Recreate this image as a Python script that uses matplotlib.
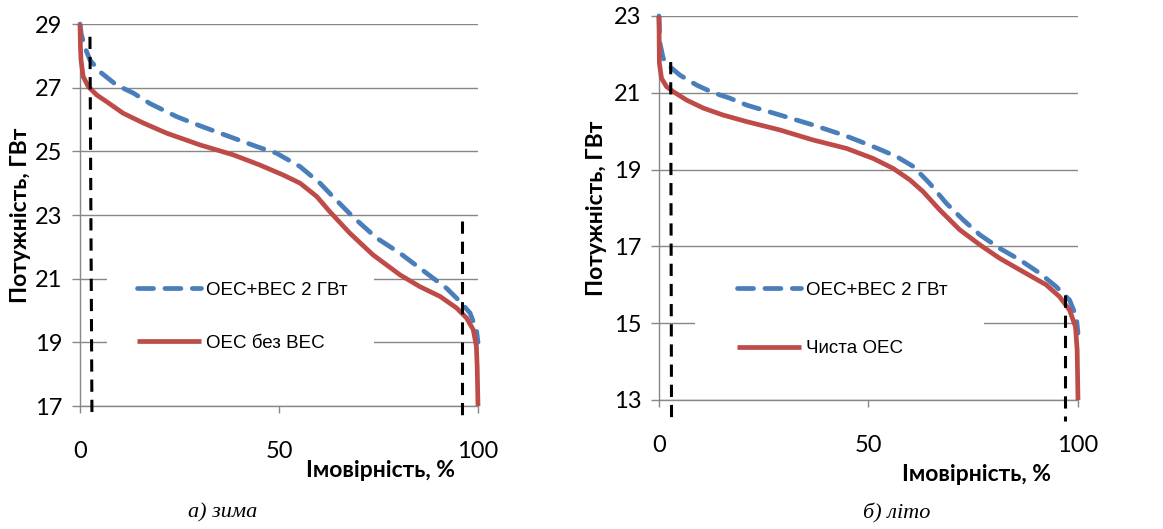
import matplotlib
matplotlib.use("Agg")
import matplotlib.pyplot as plt
from matplotlib.patches import Rectangle

# winter (а) зима)
w_x_blue = [0, 0.3, 0.8, 1.5, 2.5, 5.0, 9.2, 13.4, 17.6, 24.3, 30.2, 38.5, 44.4, 49.4,
            55.3, 60.3, 63.6, 68.6, 74.5, 80.4, 87.1, 92.1, 95.5, 98.0, 99.6, 100]
w_blue = [29.0, 28.7, 28.45, 28.18, 27.87, 27.5, 27.08, 26.83, 26.5, 26.09, 25.8, 25.42,
          25.15, 24.94, 24.52, 24.0, 23.57, 22.94, 22.28, 21.8, 21.17, 20.7, 20.28, 19.92,
          19.4, 19.0]
w_x_red = [0, 0.1, 0.25, 0.8, 2.1, 4.2, 6.7, 10.8, 15.9, 21.8, 30.2, 38.5, 45.2, 51.0,
           55.3, 59.5, 62.8, 67.8, 73.6, 80.4, 85.4, 90.5, 94.6, 97.1, 98.8, 99.6, 99.8, 100]
w_red = [29.0, 28.3, 27.87, 27.35, 27.03, 26.77, 26.56, 26.2, 25.89, 25.57, 25.2, 24.89,
         24.57, 24.26, 24.0, 23.58, 23.1, 22.43, 21.75, 21.12, 20.75, 20.44, 20.08, 19.77,
         19.4, 18.87, 18.2, 17.0]
w_cut_x = [[2.5, 3.0], [96.1, 96.1]]
w_cut_y = [[28.6, 16.7], [22.8, 16.7]]

# summer (б) літо)
s_x_blue = [0, 0.24, 1.0, 2.6, 5.0, 9.0, 13.0, 16.9, 20.9, 28.9, 36.8, 44.8, 51.1, 56.7,
            60.7, 64.6, 68.6, 72.6, 76.6, 81.3, 86.1, 90.9, 94.8, 98.0, 99.6, 100]
s_blue = [23.0, 22.29, 21.9, 21.68, 21.46, 21.2, 21.0, 20.86, 20.68, 20.42, 20.16, 19.87,
          19.6, 19.34, 19.08, 18.64, 18.12, 17.69, 17.3, 16.95, 16.65, 16.3, 15.95, 15.6,
          15.17, 14.74]
s_x_red = [0, 0.1, 0.6, 1.8, 3.4, 6.6, 10.6, 15.3, 20.9, 28.9, 36.8, 44.8, 51.1, 55.9,
           59.9, 63.0, 67.0, 71.8, 76.6, 81.3, 86.9, 92.4, 95.6, 98.0, 99.4, 99.8, 100]
s_red = [23.0, 21.77, 21.38, 21.16, 21.03, 20.81, 20.6, 20.42, 20.25, 20.03, 19.77, 19.55,
         19.29, 19.03, 18.73, 18.43, 17.95, 17.43, 17.04, 16.69, 16.34, 16.0, 15.69, 15.34,
         14.91, 14.3, 13.0]
s_cut_x = [[2.8, 3.0], [96.8, 96.8]]
s_cut_y = [[21.8, 12.44], [15.73, 12.44]]

x_ticks = [0, 50, 100]
w_yticks = [17, 19, 21, 23, 25, 27, 29]
s_yticks = [13, 15, 17, 19, 21, 23]

blue = '#4a7ebb'
red = '#be4b48'
grey = '#878787'
tick_font = ['Lato', 'DejaVu Sans']
label_font = ['Lato', 'Noto Sans']
leg_font = 'Liberation Sans'

fig = plt.figure(figsize=(11.63, 5.29), dpi=100)


def panel(rect, xb, yb, xr, yr, cut_x, cut_y, yticks, lab_blue, lab_red,
          ylab_x, xlab_xy, leg_rect, leg_anchor, leg_space):
    ax = fig.add_axes(rect)
    ax.set_xlim(0, 100)
    ax.set_ylim(yticks[0], yticks[-1])
    ax.set_axisbelow(True)
    ax.yaxis.grid(True, color=grey, lw=1.0)
    ax.set_xticks(x_ticks)
    ax.set_yticks(yticks)
    ax.tick_params(axis='y', direction='out', length=5.8, width=1.0, color=grey,
                   pad=7, labelsize=17)
    ax.tick_params(axis='x', direction='out', length=5, width=1.0, color=grey,
                   pad=20, labelsize=17)
    for t in ax.get_xticklabels() + ax.get_yticklabels():
        t.set_fontfamily(tick_font)
    for s in ['top', 'right']:
        ax.spines[s].set_visible(False)
    for s in ['left', 'bottom']:
        ax.spines[s].set_color(grey)
        ax.spines[s].set_linewidth(1.0)

    # white box behind legend hides the grid
    ax.add_patch(Rectangle((leg_rect[0], leg_rect[1]), leg_rect[2], leg_rect[3],
                           transform=ax.transAxes, facecolor='white',
                           edgecolor='none', zorder=1))

    lb, = ax.plot(xb, yb, color=blue, lw=3.4, ls=(0, (3.4, 2.4)),
                  dash_capstyle='round', zorder=3, clip_on=False)
    lr, = ax.plot(xr, yr, color=red, lw=3.4, solid_capstyle='butt', zorder=4,
                  clip_on=False)
    for cx, cy in zip(cut_x, cut_y):
        ax.plot(cx, cy, color='black', lw=2.2, ls=(0, (4.0, 2.6)), zorder=5,
                clip_on=False)

    ax.legend([lb, lr], [lab_blue, lab_red], loc='center left',
              bbox_to_anchor=leg_anchor, frameon=False, borderaxespad=0,
              borderpad=0, handlelength=3.4, handletextpad=0.3,
              labelspacing=leg_space, prop={'family': leg_font, 'size': 13.5})

    ax.set_ylabel('Потужність, ГВт', fontfamily=label_font, fontweight='bold',
                  fontsize=16.5)
    ax.yaxis.set_label_coords(ylab_x, 0.5)
    ax.set_xlabel('Імовірність, %', fontfamily=label_font, fontweight='bold',
                  fontsize=16.5)
    ax.xaxis.set_label_coords(xlab_xy[0], xlab_xy[1])
    return ax


panel([0.0688, 0.2325, 0.3422, 0.7221], w_x_blue, w_blue, w_x_red, w_red,
      w_cut_x, w_cut_y, w_yticks, 'ОЕС+ВЕС 2 ГВт', 'ОЕС без ВЕС',
      -0.122, (0.754, -0.141), (0.068, 0.07, 0.671, 0.33), (0.143, 0.234), 1.9)

panel([0.5666, 0.2439, 0.3603, 0.7259], s_x_blue, s_blue, s_x_red, s_red,
      s_cut_x, s_cut_y, s_yticks, 'ОЕС+ВЕС 2 ГВт', 'Чиста ОЕС',
      -0.124, (0.758, -0.166), (0.086, 0.045, 0.69, 0.33), (0.186, 0.21), 2.2)

fig.text(0.191, 0.03, 'а) зима', fontfamily='Liberation Serif', style='italic',
         fontsize=16, ha='center', va='center')
fig.text(0.771, 0.03, 'б) літо', fontfamily='Liberation Serif', style='italic',
         fontsize=16, ha='center', va='center')

fig.savefig('out.png', dpi=100)
